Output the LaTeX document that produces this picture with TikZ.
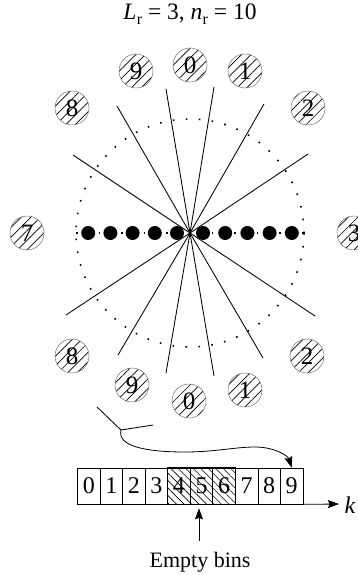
\documentclass[tikz,border=0pt]{standalone}
\usepackage{fontspec}
\setmainfont{Liberation Serif}
\usetikzlibrary{patterns.meta,arrows.meta}
\tikzset{
  hc/.style={circle, minimum size=34pt, inner sep=0pt, draw=black!55, line width=0.5pt,
     pattern={Lines[angle=45,distance=6.8pt,line width=0.7pt]}, font=\fontsize{25}{25}\selectfont},
  cell/.style={rectangle, draw, line width=0.7pt, minimum width=22.55pt, minimum height=36pt, inner sep=0pt,
     font=\fontsize{24}{24}\selectfont},
  hcell/.style={cell, pattern={Lines[angle=-45,distance=5.3pt,line width=0.6pt]}},
  ray/.style={line width=0.85pt},
  dotc/.style={line width=1.6pt, dash pattern=on 1.6pt off 11.4pt},
  dotl/.style={line width=1.5pt, dash pattern=on 1.5pt off 9.8pt},
  bead/.style={circle, fill=black, minimum size=14pt, inner sep=0pt},
  tip/.style={-{Stealth[length=11pt,width=8pt,inset=1.5pt]}, line width=0.8pt}
}
\begin{document}
\begin{tikzpicture}[x=1pt,y=-1pt,font=\fontsize{22}{24}\selectfont]
\useasboundingbox (0,0) rectangle (358,575);
\node[font=\fontsize{23.5}{24}\selectfont] (title) at (190,14) {\textit{L}\kern0.3pt\raisebox{-4.5pt}{\fontsize{16}{16}\selectfont r} = 3, \textit{n}\kern0.3pt\raisebox{-4.5pt}{\fontsize{16}{16}\selectfont r} = 10};
\coordinate (ctr) at (190,233);
\draw[dotc] (ctr) circle (114);
\draw[dotl] (76,233) -- (304,233);
\foreach \p in {(308,154),(66,315),(264,104),(118,355),(214,87),(166,373),(166,89),(214,376),(117,106),(263,358),(73,155),(315,316)}
  \draw[ray] (ctr) -- \p;
\foreach \i in {0,...,4} {
  \node[bead] (bl\i) at ({190-13-22.2*\i},233) {};
  \node[bead] (br\i) at ({190+13+22.2*\i},233) {};
}
% hatched circles
\node[hc] (t0) at (190,65) {0};
\node[hc] (t9) at (136,71) {9};
\node[hc] (t1) at (245,71) {1};
\node[hc] (t8) at (72,108) {8};
\node[hc] (t2) at (308,108) {2};
\node[hc] (m7) at (27,233) {7};
\node[hc] (m3) at (354,233) {3};
\node[hc] (b8) at (72,356) {8};
\node[hc] (b2) at (307,356) {2};
\node[hc] (b9) at (132,385) {9};
\node[hc] (b0) at (189,401) {0};
\node[hc] (b1) at (245,390) {1};
% bins
\foreach \i in {0,...,9} {
  \ifnum\i>3 \ifnum\i<7
    \node[hcell] (c\i) at ({77.5+22.55*(\i+0.5)},486) {\i};
  \else
    \node[cell] (c\i) at ({77.5+22.55*(\i+0.5)},486) {\i};
  \fi\else
    \node[cell] (c\i) at ({77.5+22.55*(\i+0.5)},486) {\i};
  \fi
}
\draw[line width=1.4pt] (c4.north west) rectangle (c6.south east);
\coordinate (kend) at (339,504);
\draw[tip] (c9.south east) -- (kend);
\node[font=\fontsize{24}{24}\selectfont] (k) at (350,505) {\textit{k}};
% empty bins arrow
\node (empty) at (200,562) {Empty bins};
\coordinate (ebot) at (199,541);
\draw[tip, shorten >=4pt] (ebot) -- (ebot |- c5.south);
% Y shaped connector
\coordinate (ya) at (97,407);
\coordinate (yj) at (121,430);
\coordinate (yb) at (153,425);
\draw[ray] (ya) -- (yj) -- (yb);
\draw[tip] (yj) .. controls (117,446) and (145,452) .. (185,452)
   .. controls (215,452) and (235,447) .. (255,447)
   .. controls (275,447) and (288,456) .. (c9.north);
\end{tikzpicture}
\end{document}
